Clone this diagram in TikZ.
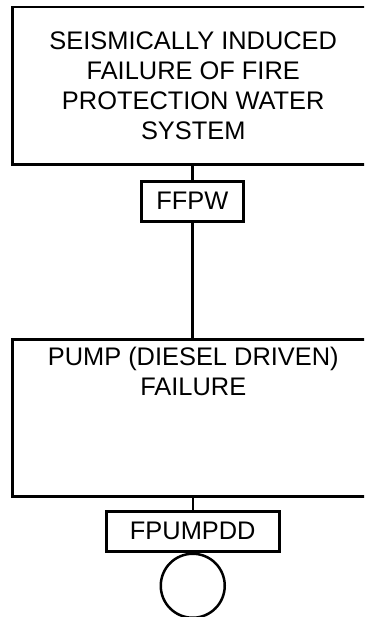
\documentclass[tikz,border=0pt]{standalone}
\usepackage{fontspec}
\setmainfont{Liberation Sans}
\begin{document}
\begin{tikzpicture}[x=1bp,y=-1bp,
  every node/.style={font=\fontsize{25.5}{30}\selectfont},
  bigbox/.style={draw,line width=2.5bp,minimum width=362bp,minimum height=157bp,inner sep=0pt,anchor=north west},
  tagbox/.style={draw,line width=2.5bp,minimum height=40bp,inner sep=0pt,anchor=north west},
  conn/.style={line width=2.5bp}]
\clip (0,0) rectangle (364,617);
\fill[white] (0,0) rectangle (364,617);
\node[bigbox,align=center] (seis) at (11,6) {SEISMICALLY INDUCED\\FAILURE OF FIRE\\PROTECTION WATER\\SYSTEM};
\node[tagbox,minimum width=102bp] (ffpw) at (140,180) {FFPW};
\node[bigbox] (pump) at (11,338) {};
\node[align=center,anchor=north,inner sep=0pt] (pumptext) at ([yshift=-9bp]pump.north) {PUMP (DIESEL DRIVEN)\\FAILURE};
\node[tagbox,minimum width=173bp] (fpumpdd) at (105,510) {FPUMPDD};
\node[draw,circle,line width=2.5bp,minimum size=64bp,inner sep=0pt,anchor=north] (basic) at (fpumpdd.south) {};
\draw[conn] (seis.south -| ffpw.north) -- (ffpw.north);
\draw[conn] (ffpw.south) -- (ffpw.south |- pump.north);
\draw[conn] (pump.south -| fpumpdd.north) -- (fpumpdd.north);
\end{tikzpicture}
\end{document}
